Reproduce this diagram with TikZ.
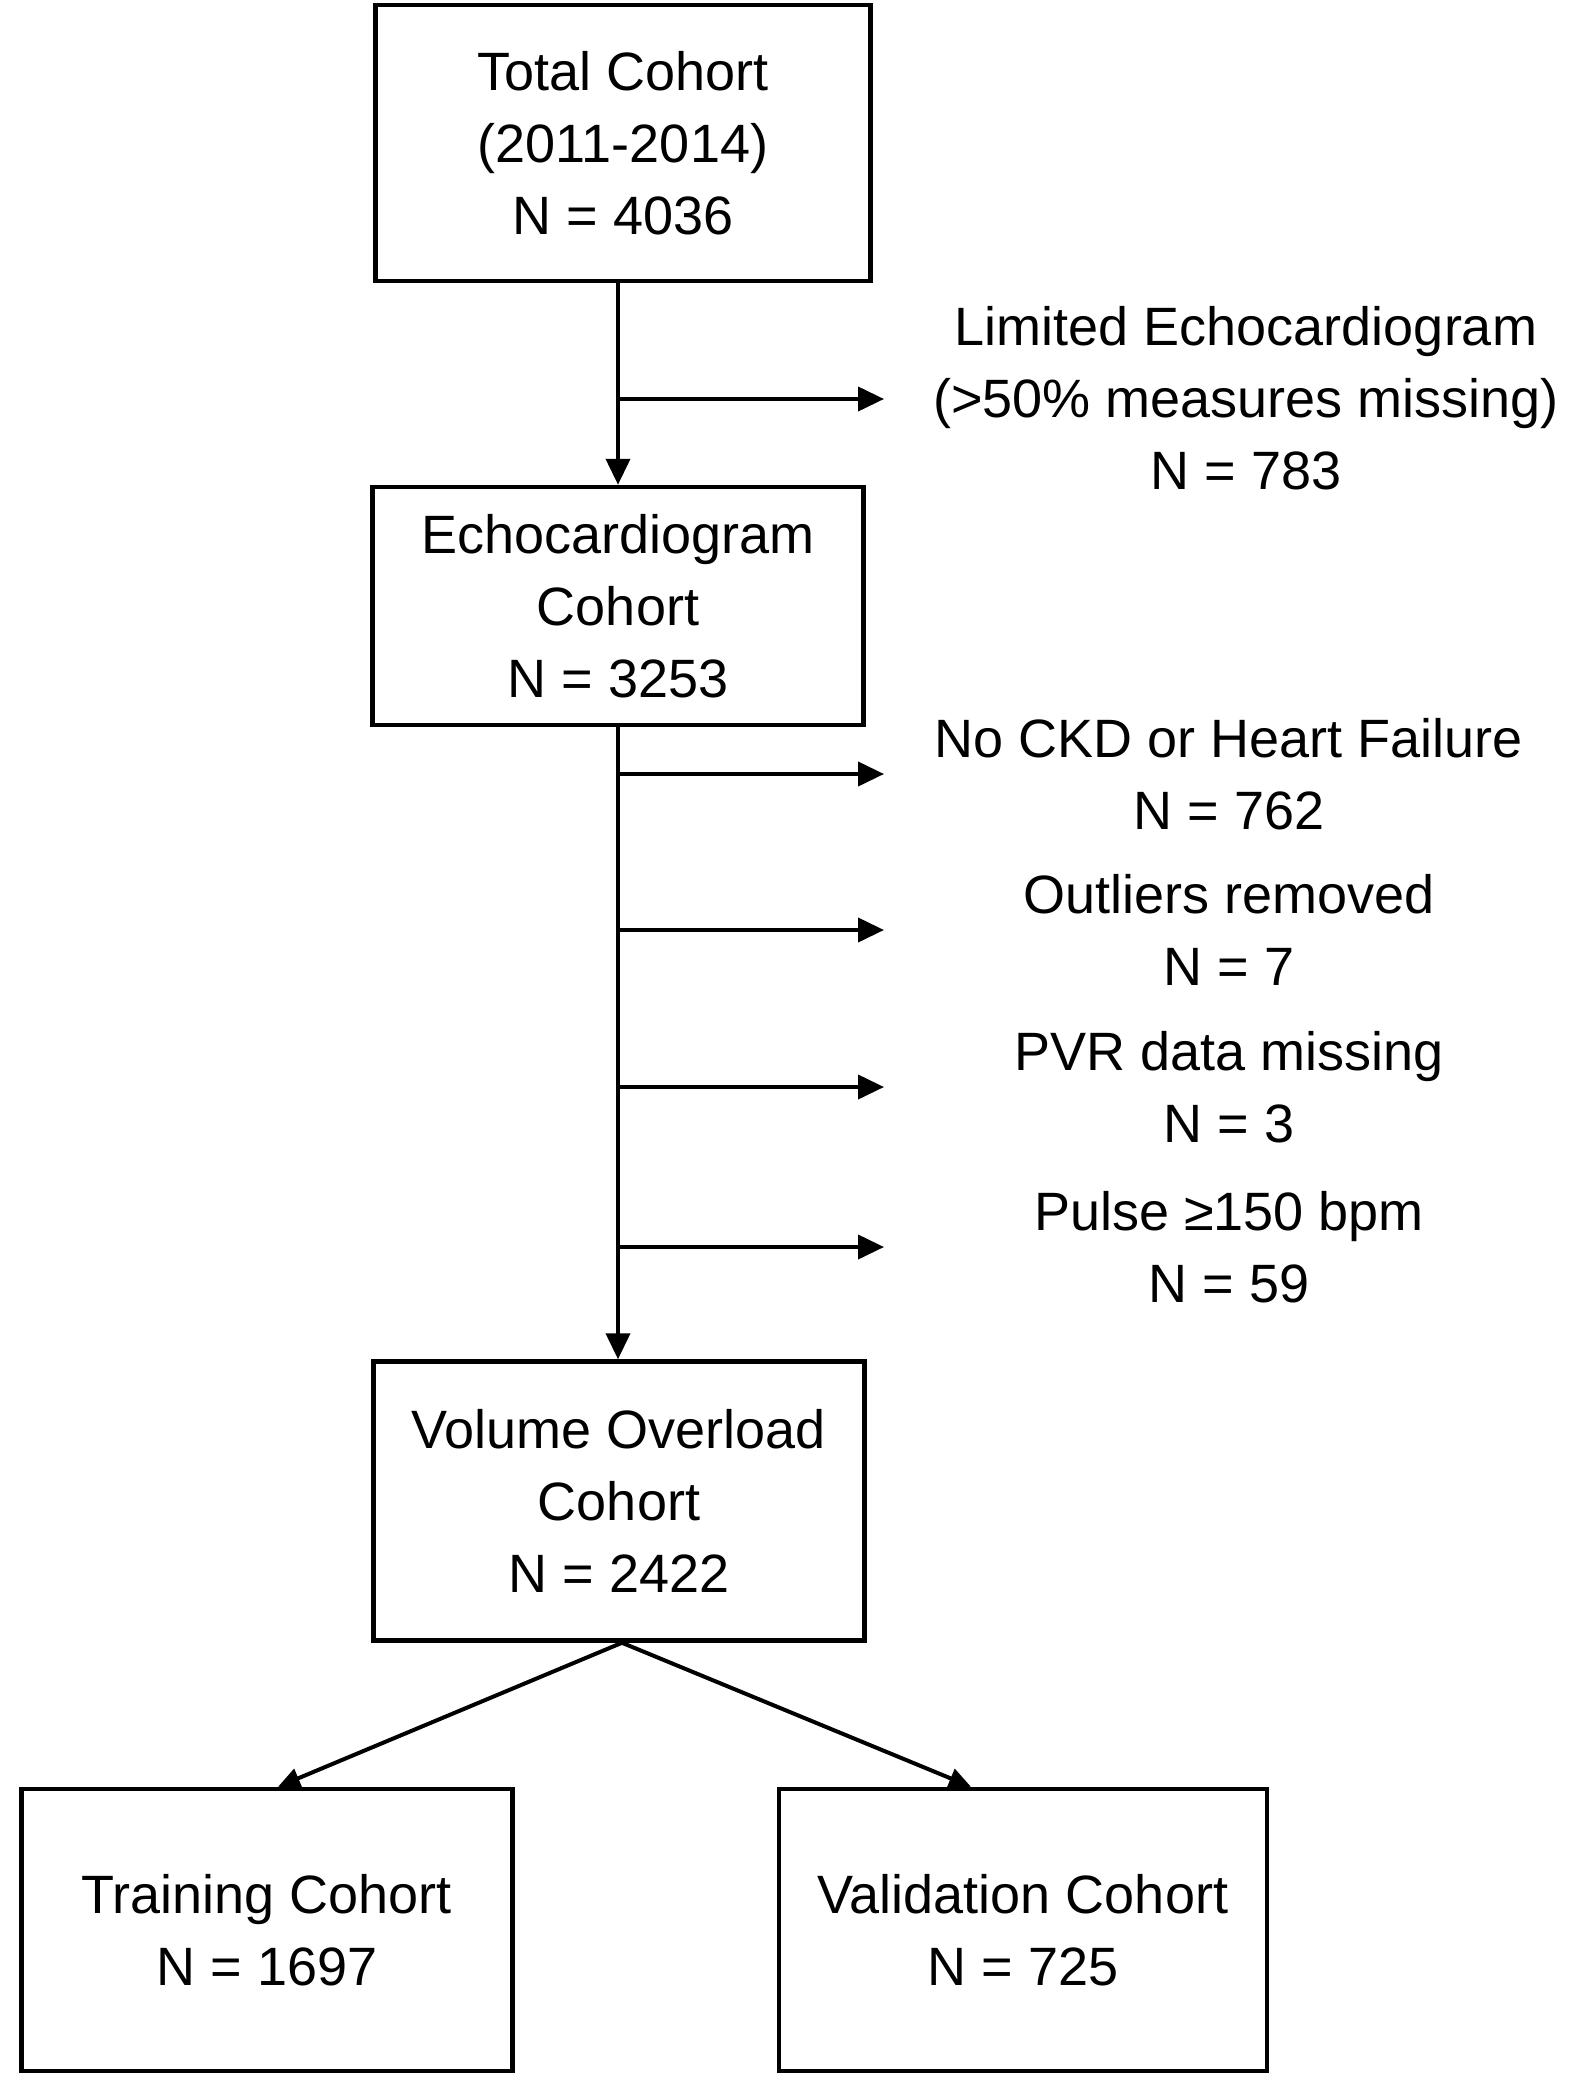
\documentclass[tikz,border=0pt]{standalone}
\usepackage{fontspec}
\setmainfont{Liberation Sans}
\usetikzlibrary{arrows.meta}
\tikzset{cohort/.style={draw, line width=4.5pt, minimum width=491pt, align=center, inner sep=0pt, font=\fontsize{54}{72}\selectfont}}
\tikzset{excl/.style={align=center, inner sep=0pt, font=\fontsize{54}{72}\selectfont}}
\tikzset{flow/.style={line width=4pt, -{Triangle[length=26pt,width=24pt]}}}

\begin{document}
\begin{tikzpicture}[x=1pt,y=-1pt]
\useasboundingbox (0,0) rectangle (1591,2100);
% cohort boxes
\node[cohort, minimum width=495pt, minimum height=276pt] (total) at (623,143) {Total Cohort\\(2011-2014)\\N = 4036};
\node[cohort, minimum height=238pt] (echo) at (618,606) {Echocardiogram\\Cohort\\N = 3253};
\node[cohort, minimum height=279pt] (vol) at (619,1501) {Volume Overload\\Cohort\\N = 2422};
\node[cohort, minimum height=282pt] (train) at (267,1930) {Training Cohort\\N = 1697};
\node[cohort, minimum width=488pt, minimum height=282pt] (valid) at (1023,1930) {Validation Cohort\\N = 725};
% trunk
\draw[flow] (echo.north |- total.south) -- (echo.north);
\draw[flow] (echo.south) -- (vol.north -| echo.south);
% exclusions
\node[excl] (ex0) at (1246,398) {Limited Echocardiogram\\(>50\% measures missing)\\N = 783};
\coordinate (t0) at (884,399);
\draw[flow] (echo.north |- t0) -- (t0);
\foreach \yy/\txt [count=\i] in {774/{No CKD or Heart Failure\\N = 762}, 930/{Outliers removed\\N = 7}, 1087/{PVR data missing\\N = 3}, 1247/{Pulse ≥150 bpm\\N = 59}}
{
  \node[excl] (ex\i) at (1229,\yy) {\txt};
  \coordinate (t\i) at (884,\yy);
  \draw[flow] (echo.south |- t\i) -- (t\i);
}
% split
\draw[line width=4pt, -{Triangle[length=22pt,width=20pt]}] ([xshift=3pt]vol.south) -- ([xshift=11pt]train.north);
\draw[line width=4pt, -{Triangle[length=22pt,width=20pt]}] ([xshift=3pt]vol.south) -- ([xshift=-52pt]valid.north);
\end{tikzpicture}
\end{document}
